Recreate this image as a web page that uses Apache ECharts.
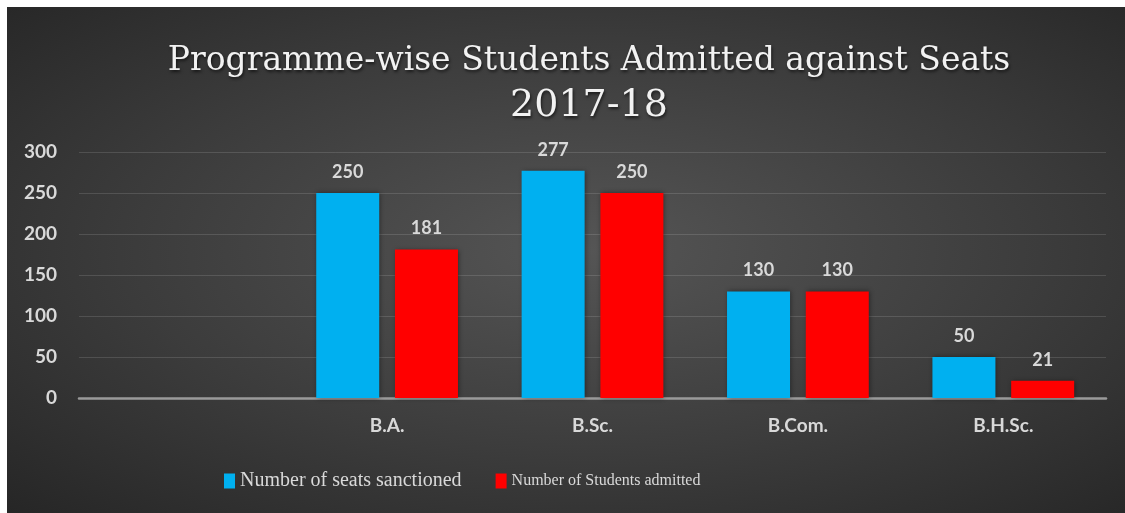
<!DOCTYPE html>
<html>
<head>
<meta charset="utf-8">
<script src="https://cdn.jsdelivr.net/npm/echarts@6/dist/echarts.min.js"></script>
<style>
  html, body { margin: 0; padding: 0; background: #fff; }
  #chart {
    position: absolute; left: 7px; top: 7px;
    width: 1118px; height: 506px;
    background: radial-gradient(ellipse at 52% 48%, #555555 0%, #3c3c3c 55%, #262626 100%);
  }
</style>
</head>
<body>
<div id="chart"></div>
<script>
const categories = ['', 'B.A.', 'B.Sc.', 'B.Com.', 'B.H.Sc.']
const seatsSanctioned = [null, 250, 277, 130, 50]
const studentsAdmitted = [null, 181, 250, 130, 21]

const chart = echarts.init(document.getElementById('chart'))

const labelStyle = {
    show: true,
    position: 'top',
    distance: 12,
    color: '#d9d9d9',
    fontFamily: 'Lato',
    fontWeight: 'bold',
    fontSize: 18
}

const titleShadow = {
    color: '#f2f2f2',
    fontFamily: 'DejaVu Serif',
    fontWeight: 'normal',
    textShadowColor: 'rgba(0,0,0,0.6)',
    textShadowBlur: 3,
    textShadowOffsetX: 1,
    textShadowOffsetY: 2
}

chart.setOption({
    backgroundColor: 'transparent',
    title: {
        text: '{a|Programme-wise Students Admitted against Seats}\n{b|2017-18}',
        left: 577,
        top: 28,
        textAlign: 'center',
        textStyle: {
            fontWeight: 'normal',
            rich: {
                a: Object.assign({ fontSize: 33, lineHeight: 43 }, titleShadow),
                b: Object.assign({ fontSize: 38, lineHeight: 46 }, titleShadow)
            }
        }
    },
    grid: { left: 72, right: 19, top: 145, bottom: 115 },
    legend: {
        left: 212,
        top: 459,
        itemWidth: 11,
        itemHeight: 15,
        itemGap: 34,
        icon: 'rect',
        textStyle: { color: '#d9d9d9', fontFamily: 'Liberation Serif' },
        data: [
            { name: 'Number of seats sanctioned', textStyle: { fontSize: 20 } },
            { name: 'Number of Students admitted', textStyle: { fontSize: 16 } }
        ]
    },
    xAxis: {
        type: 'category',
        data: categories,
        axisLine: { lineStyle: { color: '#9a9a9a', width: 2.5 } },
        axisTick: { show: false },
        axisLabel: {
            color: '#d9d9d9',
            fontFamily: 'Lato',
            fontWeight: 'bold',
            fontSize: 19,
            margin: 18
        }
    },
    yAxis: {
        type: 'value',
        min: 0,
        max: 300,
        interval: 50,
        axisLine: { show: false },
        axisTick: { show: false },
        axisLabel: {
            color: '#d9d9d9',
            fontFamily: 'Lato',
            fontWeight: 'bold',
            fontSize: 19,
            margin: 22
        },
        splitLine: { lineStyle: { color: 'rgba(255,255,255,0.13)', width: 1 } }
    },
    series: [
        {
            name: 'Number of seats sanctioned',
            type: 'bar',
            data: seatsSanctioned,
            barWidth: 63,
            barGap: '25%',
            itemStyle: {
                color: '#00b0f0',
                shadowColor: 'rgba(0,0,0,0.45)',
                shadowBlur: 5,
                shadowOffsetX: 1
            },
            label: labelStyle
        },
        {
            name: 'Number of Students admitted',
            type: 'bar',
            data: studentsAdmitted,
            barWidth: 63,
            itemStyle: {
                color: '#ff0000',
                shadowColor: 'rgba(0,0,0,0.45)',
                shadowBlur: 5,
                shadowOffsetX: 1
            },
            label: labelStyle
        }
    ]
})
</script>
</body>
</html>
